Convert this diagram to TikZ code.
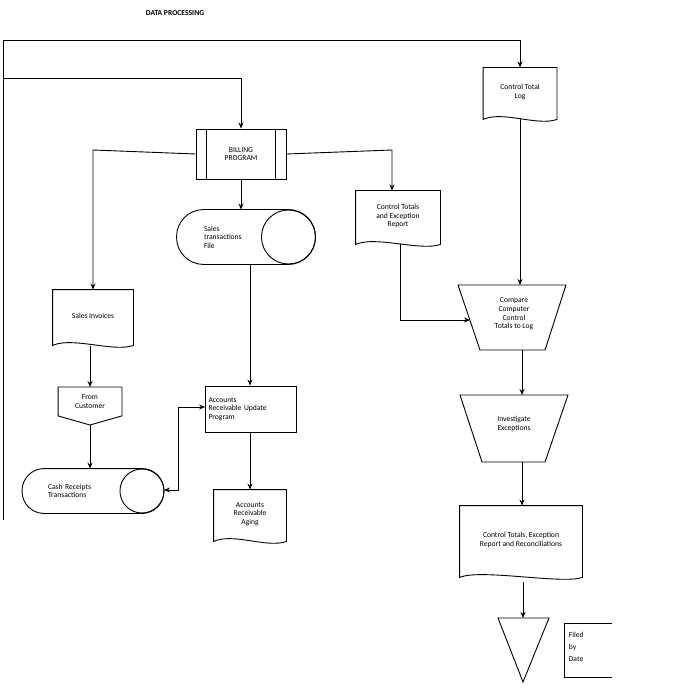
\documentclass[tikz,border=0pt]{standalone}
\usepackage{fontspec}
\setmainfont{Carlito}
\usetikzlibrary{arrows.meta,shapes.geometric}
\begin{document}
\begin{tikzpicture}[x=1pt,y=-1pt,
  line width=0.9pt,
  lbl/.style={font=\fontsize{7.6}{8.6}\selectfont,align=center},
  box/.style={lbl,draw=none,inner sep=0},
  arr/.style={-{Stealth[length=6pt,width=5pt]}}]
\useasboundingbox (0,0) rectangle (697,700);
\newcommand\docshape[1]{\draw (#1.north west) -- (#1.north east) -- ([yshift=-3pt]#1.south east) .. controls ([xshift=-20pt,yshift=-10pt]#1.south east) and ([xshift=20pt,yshift=6pt]#1.south west) .. ([yshift=-3pt]#1.south west) -- cycle;}
\newcommand\cylshape[2]{\draw[rounded corners=#2] (#1.north west) rectangle (#1.south east);
  \draw ([xshift=-#2]#1.east) circle[radius=#2];}
\node[font=\bfseries\fontsize{7.6}{8.6}\selectfont] (title) at (175,13) {DATA PROCESSING};
% Control Total Log
\node[box,minimum width=73pt,minimum height=48pt] (ctl) at (520,92) {Control Total\\Log};
\docshape{ctl}
% Billing
\node[box,draw,minimum width=90pt,minimum height=50pt] (bill) at (241,154) {BILLING\\PROGRAM};
\draw ([xshift=11pt]bill.north west) -- ([xshift=11pt]bill.south west);
\draw ([xshift=-11pt]bill.north east) -- ([xshift=-11pt]bill.south east);
% top lines
\coordinate (l1) at (3,40);
\coordinate (l2) at (3,78);
\coordinate (l3) at (3,520);
\draw[arr] (l1) -- (520,40) -- (ctl.north);
\draw (l1) -- (l3);
\draw[arr] (l2) -- (241,78) -- (bill.north);
% Sales transactions file
\node[box,minimum width=138pt,minimum height=54pt,text width=128pt,align=left] (stf) at (246,237) {\hspace*{22pt}Sales\\\hspace*{22pt}transactions\\\hspace*{22pt}File};
\cylshape{stf}{27pt}
\draw[arr] (bill.south) -- (stf.north -| 241,0);
% Control Totals and Exception report
\node[box,minimum width=84pt,minimum height=50pt] (cter) at (398,216) {Control Totals\\and Exception\\Report};
\docshape{cter}
\draw[arr] (bill.east) -- (392,150) -- (cter.north -| 392,0);
% Sales invoices
\node[box,minimum width=80pt,minimum height=52pt] (si) at (93,316) {Sales Invoices};
\docshape{si}
\draw[arr] (bill.west) -- (93,150) -- (si.north);
% From customer off-page
\node[box,minimum width=63pt,minimum height=28pt,anchor=north] (fc) at (90,387) {From\\Customer};
\draw (fc.north west) -- (fc.north east) -- (fc.south east) -- (90,425) -- (fc.south west) -- cycle;
\draw[arr] ([yshift=-4pt]si.south -| 90,0) -- (fc.north);
% Cash receipts
\node[box,minimum width=141pt,minimum height=44pt,text width=130pt,align=left] (cr) at (93,491) {\hspace*{20pt}Cash Receipts\\\hspace*{20pt}Transactions\\[6pt]};
\cylshape{cr}{22pt}
\draw[arr] (90,425) -- (cr.north -| 90,0);
% AR update
\node[box,draw,minimum width=91pt,minimum height=46pt,align=left,text width=85pt] (aru) at (251,409) {Accounts\\Receivable Update\\Program};
\draw[arr] (stf.south -| 250,0) -- (aru.north -| 250,0);
\coordinate (j) at (178,407);
\draw[arr] (j) -- (aru.west |- j);
\draw[arr] (j) -- (178,490) -- (cr.east |- 0,490);
% AR aging
\node[box,minimum width=72pt,minimum height=48pt] (ara) at (250,514) {Accounts\\Receivable\\Aging};
\docshape{ara}
\draw[arr] (aru.south -| 250,0) -- (ara.north);
% Compare
\node[lbl] (cmp) at (514,314) {Compare\\Computer\\Control\\Totals to Log};
\draw (458,285) -- (566,285) -- (545,350) -- (480,350) -- cycle;
\draw[arr] ([yshift=-3pt]ctl.south) -- (520,285);
\draw[arr] ([yshift=-3pt]cter.south -| 400,0) -- (400,320) -- (470,320);
% Investigate
\node[lbl] (inv) at (514,424) {Investigate\\Exceptions};
\draw (460,395) -- (568,395) -- (545,462) -- (482,462) -- cycle;
\draw[arr] (522,350) -- (522,395);
% Final report
\node[box,minimum width=122pt,minimum height=68pt] (fr) at (521,540) {Control Totals, Exception\\Report and Reconciliations};
\docshape{fr}
\draw[arr] (522,462) -- (fr.north -| 522,0);
% Offline storage
\coordinate (tri) at (523,618);
\draw (498,618) -- (549,618) -- (523,682) -- cycle;
\draw[arr] (523,582) -- (tri);
% Annotation
\node[lbl,align=left,anchor=north west] (note) at (565,628) {Filed\\[4pt]by\\[3pt]Date};
\draw (612,623) -- (564,623) -- (564,677) -- (612,677);
\end{tikzpicture}
\end{document}
